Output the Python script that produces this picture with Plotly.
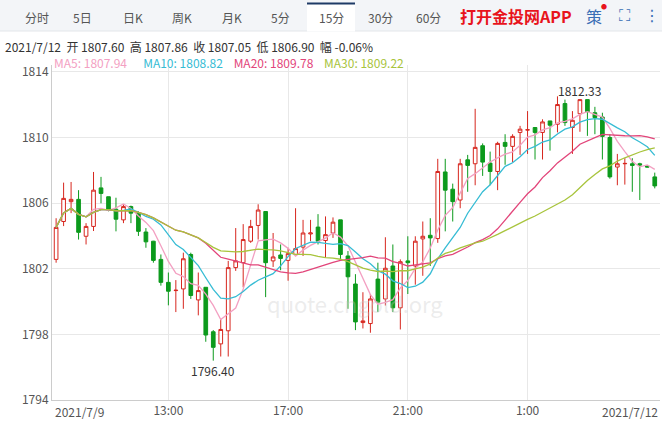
import plotly.graph_objects as go
import pandas as pd

opens = [1802.57,1804.88,1806.09,1806.23,1803.98,1804.58,1806.93,1806.39,1805.63,1804.98,
         1805.79,1805.39,1804.24,1803.68,1802.57,1801.17,1800.67,1800.77,1802.87,1800.10,
         1800.87,1798.16,1797.42,1798.22,1802.07,1802.37,1803.68,1804.64,1805.49,1802.48,
         1802.84,1802.51,1802.87,1803.32,1804.12,1804.54,1803.72,1804.18,1804.98,1802.78,
         1801.07,1798.72,1798.66,1801.37,1800.16,1802.17,1799.62,1802.48,1802.17,1803.82,
         1804.04,1803.84,1807.90,1806.85,1806.19,1808.64,1808.40,1809.50,1808.44,1807.93,
         1809.70,1809.46,1810.31,1810.46,1810.61,1810.31,1811.01,1810.81,1812.07,1810.61,
         1811.45,1812.31,1811.51,1811.25,1810.00,1808.20,1808.40,1808.40,1808.40,1808.26,
         1807.60]
highs = [1805.08,1807.25,1807.29,1806.79,1804.78,1807.90,1807.60,1806.39,1806.33,1805.93,
         1805.85,1805.50,1804.48,1803.70,1802.87,1801.77,1801.31,1802.98,1802.98,1801.77,
         1800.87,1798.26,1798.96,1802.48,1804.48,1804.72,1804.98,1805.93,1805.49,1804.18,
         1803.48,1803.28,1805.69,1804.98,1804.98,1805.33,1805.19,1805.13,1804.98,1803.08,
         1801.67,1800.57,1800.46,1802.37,1803.92,1803.48,1802.57,1803.98,1803.98,1804.88,
         1805.08,1808.70,1808.70,1807.19,1808.70,1808.94,1811.75,1809.64,1809.14,1809.74,
         1810.20,1810.20,1810.71,1811.61,1810.61,1811.11,1811.01,1812.51,1812.31,1811.61,
         1812.33,1812.31,1811.87,1811.51,1810.20,1809.00,1808.74,1808.74,1808.46,1808.30,
         1807.86]
lows = [1802.37,1804.60,1805.39,1803.78,1803.48,1804.30,1805.99,1805.50,1804.28,1804.78,
        1804.78,1804.00,1803.28,1802.37,1800.97,1799.77,1799.36,1799.56,1800.16,1799.16,
        1797.55,1796.40,1796.65,1796.65,1801.87,1800.87,1803.58,1803.78,1800.27,1802.11,
        1801.91,1801.27,1802.78,1802.78,1803.68,1803.48,1802.67,1803.88,1802.57,1799.56,
        1798.26,1798.36,1798.10,1799.36,1799.76,1799.36,1798.30,1800.46,1801.03,1801.57,
        1802.17,1803.58,1804.28,1804.88,1805.69,1806.69,1807.09,1807.66,1807.09,1806.79,
        1808.34,1808.50,1808.94,1809.00,1808.66,1808.66,1809.20,1810.31,1810.71,1809.00,
        1810.35,1810.10,1810.20,1808.66,1807.49,1807.09,1807.13,1806.69,1806.19,1808.18,
        1806.90]
closes = [1804.52,1806.29,1806.23,1804.22,1804.58,1806.79,1806.59,1805.58,1805.02,1805.79,
          1805.39,1804.28,1803.64,1802.51,1801.17,1800.63,1800.69,1802.61,1800.37,1800.67,
          1797.96,1797.21,1798.30,1802.07,1802.48,1803.78,1804.58,1805.58,1802.37,1802.72,
          1802.63,1802.92,1803.23,1804.18,1804.18,1803.68,1804.08,1804.84,1802.87,1801.51,
          1798.76,1798.82,1800.16,1799.96,1802.03,1799.62,1802.43,1802.37,1803.68,1803.98,
          1803.88,1807.93,1806.79,1806.09,1808.40,1808.30,1809.40,1808.50,1807.93,1809.64,
          1809.46,1810.07,1810.51,1810.47,1810.31,1810.95,1810.75,1812.01,1810.91,1811.05,
          1812.31,1811.57,1811.21,1810.07,1807.60,1808.40,1808.42,1808.30,1808.32,1808.20,
          1807.05]

tick_idx = [15, 31, 47, 63]
tick_text = ["13:00", "17:00", "21:00", "1:00"]
y_ticks = [1794, 1798, 1802, 1806, 1810, 1814]

x = list(range(len(closes)))
s = pd.Series(closes)
mas = [(5, "#f3a0c2"), (10, "#36bcd4"), (20, "#e2457a"), (30, "#a8c43c")]

fig = go.Figure()
fig.add_trace(go.Candlestick(
    x=x, open=opens, high=highs, low=lows, close=closes,
    increasing=dict(line=dict(color="#d7261e", width=1), fillcolor="#ffffff"),
    decreasing=dict(line=dict(color="#0c9a1c", width=1), fillcolor="#0c9a1c"),
    whiskerwidth=0, showlegend=False, hoverinfo="skip"))
for n, c in mas:
    fig.add_trace(go.Scatter(x=x, y=s.rolling(n, min_periods=1).mean(), mode="lines",
                             line=dict(color=c, width=1.3), showlegend=False, hoverinfo="skip"))

F = "Noto Sans CJK SC"
T, B, L = 65, 21, 52
H = 421 - T - B
W = 662 - L - 2
fig.update_layout(
    width=662, height=421, margin=dict(l=L, r=2, t=T, b=B),
    paper_bgcolor="white", plot_bgcolor="white", font=dict(family=F, size=12, color="#555"),
    xaxis=dict(range=[-0.55, 80.7], tickvals=tick_idx, ticktext=tick_text, showgrid=True,
               gridcolor="#e8e8e8", rangeslider=dict(visible=False), showline=True,
               linecolor="#cccccc", ticks="", zeroline=False, tickfont=dict(size=12, color="#555")),
    yaxis=dict(range=[1794.0, 1814.42], tickvals=y_ticks, showgrid=True, gridcolor="#e8e8e8",
               showline=True, linecolor="#cccccc", zeroline=False, ticks="",
               tickfont=dict(size=12, color="#555")),
)

def px(xp): return (xp - L) / W
def py(yp): return (421 - B - yp) / H
def note(text, xp, yp, size=12, color="#555", xanchor="center", family=F):
    fig.add_annotation(text=text, x=px(xp), y=py(yp), xref="paper", yref="paper", showarrow=False,
                       xanchor=xanchor, yanchor="middle", font=dict(size=size, color=color, family=family))

# tab bar
fig.add_shape(type="rect", xref="paper", yref="paper", x0=px(0), x1=px(662), y0=py(31), y1=py(0),
              fillcolor="#f3f5f8", line=dict(width=0), layer="below")
fig.add_shape(type="line", xref="paper", yref="paper", x0=px(0), x1=px(662), y0=py(31), y1=py(31),
              line=dict(color="#e3e6ea", width=1))
fig.add_shape(type="rect", xref="paper", yref="paper", x0=px(307), x1=px(355), y0=py(31.5), y1=py(3),
              fillcolor="white", line=dict(width=0))
fig.add_shape(type="line", xref="paper", yref="paper", x0=px(307), x1=px(355), y0=py(3.5), y1=py(3.5),
              line=dict(color="#1e3a66", width=2))
tabs = [("分时", 37), ("5日", 82), ("日K", 133), ("周K", 182), ("月K", 232), ("5分", 280),
        ("15分", 331), ("30分", 380), ("60分", 428)]
for t, xc in tabs:
    note(t, xc, 17, size=12)
note("<b>打开金投网APP</b>", 516, 16, size=16, color="#e8141c")
note("策", 594, 16, size=16, color="#3a6fb5")
note("●", 604, 6, size=6, color="#e8141c")
note("⛶", 625, 16, size=16, color="#3a6fb5", family="DejaVu Sans")
note("⋮", 652, 16, size=16, color="#3a6fb5", family="DejaVu Sans")
# info
note("2021/7/12  开 1807.60  高 1807.86  收 1807.05  低 1806.90  幅 -0.06%", 3, 47,
     color="#333", xanchor="left")
note(("<span style='color:#f3a0c2'>MA5: 1807.94</span>      "
      "<span style='color:#36bcd4'>MA10: 1808.82</span>    "
      "<span style='color:#e2457a'>MA20: 1809.78</span>    "
      "<span style='color:#a8c43c'>MA30: 1809.22</span>"), 52, 62, xanchor="left")
note("2021/7/9", 53, 411, xanchor="left")
note("2021/7/12", 660, 411, xanchor="right")
fig.add_annotation(text="1812.33", x=70, y=highs[70], yshift=9, showarrow=False,
                   font=dict(size=12, color="#333"))
fig.add_annotation(text="1796.40", x=21, y=lows[21], yshift=-10, showarrow=False,
                   font=dict(size=12, color="#333"))
note("quote.cngold.org", 355, 303, size=22, color="rgba(200,200,200,0.35)")
fig.write_html("out.html", config={"displayModeBar": False},
               post_script="document.body.style.margin='0';document.body.style.overflow='hidden';")
